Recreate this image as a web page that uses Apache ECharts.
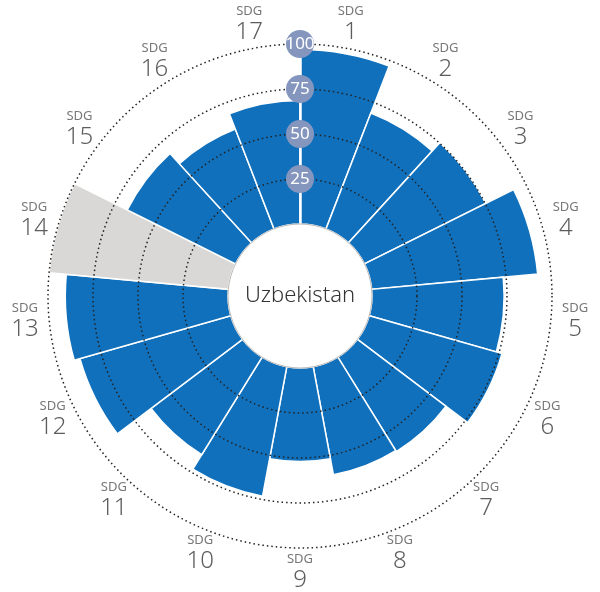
<!DOCTYPE html>
<html>
<head>
<meta charset="utf-8">
<script src="https://cdn.jsdelivr.net/npm/echarts@6/dist/echarts.min.js"></script>
<style>
  html, body { margin: 0; padding: 0; background: #fff; }
  #chart { width: 600px; height: 592px; }
</style>
</head>
<body>
<div id="chart"></div>
<script>
// SDG goal numbers, clockwise from the top
var goals = ['1', '2', '3', '4', '5', '6', '7', '8', '9', '10', '11', '12', '13', '14', '15', '16', '17'];
// goal scores (0-100)
var scores = [97, 69, 75.3, 92.6, 73.4, 76.7, 61.7, 61, 52, 73.1, 63.7, 87.1, 90.4, 100, 67.2, 59.5, 68.6];
// false = no data for the goal (grey slice)
var hasData = [true, true, true, true, true, true, true, true, true, true, true, true, true, false, true, true, true];
var country = 'Uzbekistan';

var chart = echarts.init(document.getElementById('chart'));

var font = '"Noto Sans", "Open Sans", sans-serif';
var labelRadius = 113.5; // goal labels sit a bit outside the 100 ring

chart.setOption({
  animation: false,
  title: {
    text: country,
    left: 'center',
    top: 'middle',
    textStyle: { fontFamily: font, fontSize: 22, fontWeight: 300, color: '#333' }
  },
  polar: [
    { center: ['50%', '50%'], radius: [72, 252] },
    { center: ['50%', '50%'], radius: [0, 72] }
  ],
  angleAxis: [
    {
      polarIndex: 0,
      type: 'category',
      data: goals,
      startAngle: 90,
      axisLine: { show: false },
      axisTick: { show: false },
      splitLine: { show: false },
      axisLabel: { show: false }
    },
    {
      polarIndex: 1,
      type: 'category',
      data: goals,
      startAngle: 90,
      axisLine: { show: true, lineStyle: { color: '#b8b8b8', width: 1 } },
      axisTick: { show: false },
      axisLabel: { show: false },
      splitLine: { show: false },
      z: 6
    }
  ],
  radiusAxis: [
    {
      polarIndex: 0,
      min: 0,
      max: 100,
      interval: 25,
      z: 5,
      axisLine: { show: true, lineStyle: { color: '#fff', width: 2.5 } },
      axisTick: { show: false },
      splitLine: {
        show: true,
        lineStyle: { color: ['transparent', '#222', '#222', '#222', '#222'], width: 1.5, type: [1.5, 3] }
      },
      axisLabel: {
        showMinLabel: false,
        margin: 0,
        align: 'center',
        verticalAlign: 'middle',
        width: 28,
        height: 28,
        lineHeight: 28,
        borderRadius: 14,
        backgroundColor: '#8596be',
        color: '#fff',
        fontFamily: font,
        fontSize: 17
      }
    },
    {
      polarIndex: 1,
      show: false,
      min: 0,
      max: 1
    }
  ],
  series: [
    {
      type: 'bar',
      coordinateSystem: 'polar',
      polarIndex: 0,
      barCategoryGap: '0%',
      data: scores.map(function (v, i) {
        return {
          value: v,
          itemStyle: { color: hasData[i] ? '#1070bc' : '#d9d8d6' }
        };
      }),
      itemStyle: { borderColor: '#fff', borderWidth: 1.5 }
    },
    {
      // goal names around the rim
      type: 'scatter',
      coordinateSystem: 'polar',
      polarIndex: 0,
      clip: false,
      silent: true,
      symbolSize: 1,
      itemStyle: { color: 'transparent' },
      data: goals.map(function (g) { return [labelRadius, g]; }),
      label: {
        show: true,
        position: 'inside',
        formatter: function (p) { return '{a|SDG}\n{b|' + p.value[1] + '}'; },
        rich: {
          a: { fontFamily: font, fontSize: 13, color: '#555', lineHeight: 16, align: 'center' },
          b: { fontFamily: font, fontSize: 24, fontWeight: 300, color: '#333', lineHeight: 26, align: 'center' }
        }
      }
    }
  ]
});
</script>
</body>
</html>
